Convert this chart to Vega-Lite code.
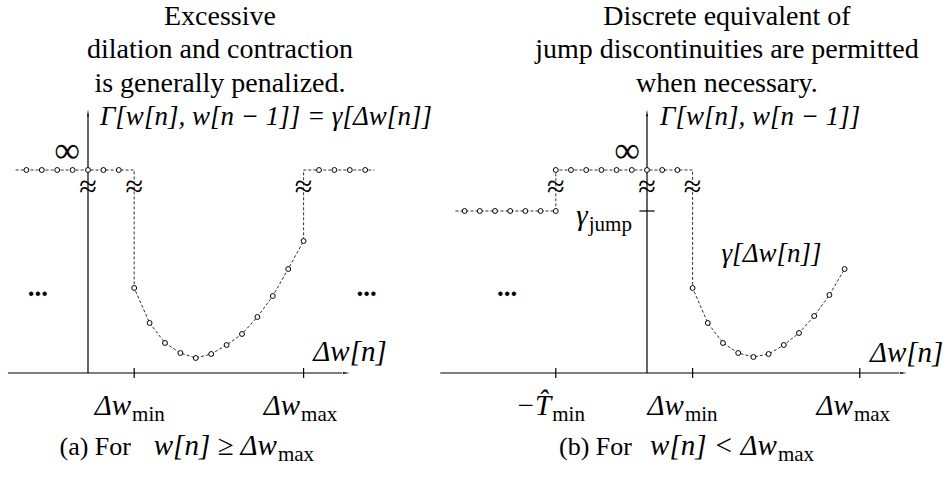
{
  "$schema": "https://vega.github.io/schema/vega-lite/v6.json",
  "width": 951,
  "height": 487,
  "padding": 0,
  "autosize": {"type": "none"},
  "background": "white",
  "config": {"view": {"stroke": null}},
  "datasets": {
    "a_axes": [
      {"x": -5.2, "x2": 16.5, "y": 0, "y2": 0},
      {"x": 0, "x2": 0, "y": 0, "y2": 25.8},
      {"x": 3, "x2": 3, "y": -0.5, "y2": 0.5},
      {"x": 14, "x2": 14, "y": -0.5, "y2": 0.5}
    ],
    "a_arrows": [
      {"x": 16.7, "y": 0, "dir": "right"},
      {"x": 0, "y": 25.9, "dir": "up"}
    ],
    "a_path": [
      {"x": -4.7, "y": 20.3, "dot": false},
      {"x": -4, "y": 20.3, "dot": true},
      {"x": -3, "y": 20.3, "dot": true},
      {"x": -2, "y": 20.3, "dot": true},
      {"x": -1, "y": 20.3, "dot": true},
      {"x": 0, "y": 20.3, "dot": true},
      {"x": 1, "y": 20.3, "dot": true},
      {"x": 2, "y": 20.3, "dot": true},
      {"x": 3, "y": 20.3, "dot": false},
      {"x": 3, "y": 8.5, "dot": true},
      {"x": 4, "y": 5.0, "dot": true},
      {"x": 5, "y": 3.0, "dot": true},
      {"x": 6, "y": 2.0, "dot": true},
      {"x": 7, "y": 1.5, "dot": true},
      {"x": 8, "y": 1.9, "dot": true},
      {"x": 9, "y": 2.8, "dot": true},
      {"x": 10, "y": 3.9, "dot": true},
      {"x": 11, "y": 5.6, "dot": true},
      {"x": 12, "y": 7.7, "dot": true},
      {"x": 13, "y": 10.4, "dot": true},
      {"x": 14, "y": 13.2, "dot": true},
      {"x": 14, "y": 20.3, "dot": false},
      {"x": 15, "y": 20.3, "dot": true},
      {"x": 16, "y": 20.3, "dot": true},
      {"x": 17, "y": 20.3, "dot": true},
      {"x": 18, "y": 20.3, "dot": true},
      {"x": 18.6, "y": 20.3, "dot": false}
    ],
    "a_text": [
      {"role": "title", "text": ["Excessive", "dilation and contraction", "is generally penalized."], "x": 8.57, "y": 34.8},
      {"role": "mathL", "text": "Γ[w[n], w[n − 1]] = γ[Δw[n]]", "x": 0.78, "y": 24.8},
      {"role": "inf", "text": "∞", "x": -0.52, "y": 21.1},
      {"role": "approx", "text": "≈", "x": 0, "y": 18.6},
      {"role": "approx", "text": "≈", "x": 3, "y": 18.6},
      {"role": "approx", "text": "≈", "x": 14, "y": 18.6},
      {"role": "ellipsis", "text": "...", "x": -3.25, "y": 7.7},
      {"role": "ellipsis", "text": "...", "x": 18.1, "y": 7.7},
      {"role": "mathR", "text": "Δw[n]", "x": 19.4, "y": 1.2},
      {"role": "mathR", "text": "Δw", "x": 2.8, "y": -4.2},
      {"role": "sub", "text": "min", "x": 2.8, "y": -4.2},
      {"role": "mathR", "text": "Δw", "x": 13.77, "y": -4.2},
      {"role": "sub", "text": "max", "x": 13.77, "y": -4.2},
      {"role": "roman", "text": "(a) For", "x": 2.79, "y": -8.2},
      {"role": "mathR", "text": "w[n] ≥ Δw", "x": 12.27, "y": -8.2},
      {"role": "sub", "text": "max", "x": 12.27, "y": -8.2}
    ],
    "b_axes": [
      {"x": -13.6, "x2": 16.6, "y": 0, "y2": 0},
      {"x": 0, "x2": 0, "y": 0, "y2": 25.8},
      {"x": -6, "x2": -6, "y": -0.5, "y2": 0.5},
      {"x": 3, "x2": 3, "y": -0.5, "y2": 0.5},
      {"x": 14, "x2": 14, "y": -0.5, "y2": 0.5},
      {"x": -0.5, "x2": 0.5, "y": 16.2, "y2": 16.2}
    ],
    "b_arrows": [
      {"x": 16.8, "y": 0, "dir": "right"},
      {"x": 0, "y": 25.9, "dir": "up"}
    ],
    "b_path": [
      {"x": -12.6, "y": 16.2, "dot": false},
      {"x": -12, "y": 16.2, "dot": true},
      {"x": -11, "y": 16.2, "dot": true},
      {"x": -10, "y": 16.2, "dot": true},
      {"x": -9, "y": 16.2, "dot": true},
      {"x": -8, "y": 16.2, "dot": true},
      {"x": -7, "y": 16.2, "dot": true},
      {"x": -6, "y": 16.2, "dot": true},
      {"x": -6, "y": 20.3, "dot": true},
      {"x": -5, "y": 20.3, "dot": true},
      {"x": -4, "y": 20.3, "dot": true},
      {"x": -3, "y": 20.3, "dot": true},
      {"x": -2, "y": 20.3, "dot": true},
      {"x": -1, "y": 20.3, "dot": true},
      {"x": 0, "y": 20.3, "dot": true},
      {"x": 1, "y": 20.3, "dot": true},
      {"x": 2, "y": 20.3, "dot": true},
      {"x": 3, "y": 20.3, "dot": false},
      {"x": 3, "y": 8.5, "dot": true},
      {"x": 4, "y": 5.0, "dot": true},
      {"x": 5, "y": 3.0, "dot": true},
      {"x": 6, "y": 2.0, "dot": true},
      {"x": 7, "y": 1.6, "dot": true},
      {"x": 8, "y": 1.9, "dot": true},
      {"x": 9, "y": 2.8, "dot": true},
      {"x": 10, "y": 4.0, "dot": true},
      {"x": 11, "y": 5.7, "dot": true},
      {"x": 12, "y": 7.8, "dot": true},
      {"x": 13, "y": 10.4, "dot": true}
    ],
    "b_text": [
      {"role": "title", "text": ["Discrete equivalent of", "jump discontinuities are permitted", "when necessary."], "x": 5.26, "y": 34.8},
      {"role": "mathL", "text": "Γ[w[n], w[n − 1]]", "x": 0.86, "y": 24.8},
      {"role": "mathL", "text": "γ[Δw[n]]", "x": 4.9, "y": 11.1},
      {"role": "inf", "text": "∞", "x": -0.46, "y": 21.1},
      {"role": "approx", "text": "≈", "x": -6, "y": 18.6},
      {"role": "approx", "text": "≈", "x": 0, "y": 18.6},
      {"role": "approx", "text": "≈", "x": 3, "y": 18.6},
      {"role": "ellipsis", "text": "...", "x": -9.2, "y": 7.7},
      {"role": "mathR", "text": "Δw[n]", "x": 19.5, "y": 1.1},
      {"role": "mathR", "text": "γ", "x": -3.9, "y": 14.8},
      {"role": "sub", "text": "jump", "x": -3.9, "y": 14.8},
      {"role": "mathR", "text": "−T̂", "x": -6.3, "y": -4.2},
      {"role": "sub", "text": "min", "x": -6.3, "y": -4.2},
      {"role": "mathR", "text": "Δw", "x": 2.43, "y": -4.2},
      {"role": "sub", "text": "min", "x": 2.43, "y": -4.2},
      {"role": "mathR", "text": "Δw", "x": 13.55, "y": -4.2},
      {"role": "sub", "text": "max", "x": 13.55, "y": -4.2},
      {"role": "roman", "text": "(b) For", "x": -0.99, "y": -8.2},
      {"role": "mathR", "text": "w[n] < Δw", "x": 8.55, "y": -8.2},
      {"role": "sub", "text": "max", "x": 8.55, "y": -8.2}
    ]
  },
  "resolve": {"scale": {"x": "independent"}},
  "layer": [
    {
      "encoding": {
        "x": {"field": "x", "type": "quantitative", "scale": {"domain": [-5.714, 56.039], "nice": false, "zero": false}, "axis": null},
        "y": {"field": "y", "type": "quantitative", "scale": {"domain": [-11.4, 37.3], "nice": false, "zero": false}, "axis": null}
      },
      "layer": [
        {"data": {"name": "a_axes"}, "mark": {"type": "rule", "color": "black", "strokeWidth": 1.2}, "encoding": {"x2": {"field": "x2"}, "y2": {"field": "y2"}}},
        {"data": {"name": "a_arrows"}, "mark": {"type": "point", "shape": "wedge", "filled": true, "color": "black", "size": 60, "opacity": 1}, "encoding": {"angle": {"field": "dir", "type": "nominal", "scale": {"domain": ["up", "right"], "range": [0, 90]}, "legend": null}}},
        {"data": {"name": "a_path"}, "mark": {"type": "line", "color": "#333", "strokeWidth": 1, "strokeDash": [3, 2]}, "encoding": {"order": {"value": null}}},
        {"data": {"name": "a_path"}, "transform": [{"filter": "datum.dot"}], "mark": {"type": "point", "shape": "circle", "filled": true, "fill": "white", "stroke": "black", "strokeWidth": 1, "size": 24, "opacity": 1}},
        {"data": {"name": "a_text"}, "transform": [{"filter": "datum.role === 'title'"}], "mark": {"type": "text", "font": "Liberation Serif, Times New Roman, serif", "fontSize": 28, "align": "center", "baseline": "alphabetic", "lineHeight": 33.3, "color": "black"}, "encoding": {"text": {"field": "text"}}},
        {"data": {"name": "a_text"}, "transform": [{"filter": "datum.role === 'mathL'"}], "mark": {"type": "text", "font": "Liberation Serif, Times New Roman, serif", "fontStyle": "italic", "fontSize": 27, "align": "left", "baseline": "alphabetic", "color": "black"}, "encoding": {"text": {"field": "text"}}},
        {"data": {"name": "a_text"}, "transform": [{"filter": "datum.role === 'mathR'"}], "mark": {"type": "text", "font": "Liberation Serif, Times New Roman, serif", "fontStyle": "italic", "fontSize": 29, "align": "right", "baseline": "alphabetic", "color": "black"}, "encoding": {"text": {"field": "text"}}},
        {"data": {"name": "a_text"}, "transform": [{"filter": "datum.role === 'sub'"}], "mark": {"type": "text", "font": "Liberation Serif, Times New Roman, serif", "fontSize": 21, "align": "left", "baseline": "alphabetic", "dx": 1, "dy": 6, "color": "black"}, "encoding": {"text": {"field": "text"}}},
        {"data": {"name": "a_text"}, "transform": [{"filter": "datum.role === 'roman'"}], "mark": {"type": "text", "font": "Liberation Serif, Times New Roman, serif", "fontSize": 26, "align": "right", "baseline": "alphabetic", "color": "black"}, "encoding": {"text": {"field": "text"}}},
        {"data": {"name": "a_text"}, "transform": [{"filter": "datum.role === 'inf'"}], "mark": {"type": "text", "font": "Liberation Serif, Times New Roman, serif", "fontSize": 36, "align": "right", "baseline": "alphabetic", "color": "black"}, "encoding": {"text": {"field": "text"}}},
        {"data": {"name": "a_text"}, "transform": [{"filter": "datum.role === 'approx'"}], "mark": {"type": "text", "font": "Liberation Serif, Times New Roman, serif", "fontSize": 32, "align": "center", "baseline": "middle", "color": "black"}, "encoding": {"text": {"field": "text"}}},
        {"data": {"name": "a_text"}, "transform": [{"filter": "datum.role === 'ellipsis'"}], "mark": {"type": "text", "font": "Liberation Serif, Times New Roman, serif", "fontSize": 27, "fontWeight": "bold", "align": "center", "baseline": "alphabetic", "color": "black"}, "encoding": {"text": {"field": "text"}}}
      ]
    },
    {
      "encoding": {
        "x": {"field": "x", "type": "quantitative", "scale": {"domain": [-42.566, 20.0], "nice": false, "zero": false}, "axis": null},
        "y": {"field": "y", "type": "quantitative", "scale": {"domain": [-11.4, 37.3], "nice": false, "zero": false}, "axis": null}
      },
      "layer": [
        {"data": {"name": "b_axes"}, "mark": {"type": "rule", "color": "black", "strokeWidth": 1.2}, "encoding": {"x2": {"field": "x2"}, "y2": {"field": "y2"}}},
        {"data": {"name": "b_arrows"}, "mark": {"type": "point", "shape": "wedge", "filled": true, "color": "black", "size": 60, "opacity": 1}, "encoding": {"angle": {"field": "dir", "type": "nominal", "scale": {"domain": ["up", "right"], "range": [0, 90]}, "legend": null}}},
        {"data": {"name": "b_path"}, "mark": {"type": "line", "color": "#333", "strokeWidth": 1, "strokeDash": [3, 2]}, "encoding": {"order": {"value": null}}},
        {"data": {"name": "b_path"}, "transform": [{"filter": "datum.dot"}], "mark": {"type": "point", "shape": "circle", "filled": true, "fill": "white", "stroke": "black", "strokeWidth": 1, "size": 24, "opacity": 1}},
        {"data": {"name": "b_text"}, "transform": [{"filter": "datum.role === 'title'"}], "mark": {"type": "text", "font": "Liberation Serif, Times New Roman, serif", "fontSize": 28, "align": "center", "baseline": "alphabetic", "lineHeight": 33.3, "color": "black"}, "encoding": {"text": {"field": "text"}}},
        {"data": {"name": "b_text"}, "transform": [{"filter": "datum.role === 'mathL'"}], "mark": {"type": "text", "font": "Liberation Serif, Times New Roman, serif", "fontStyle": "italic", "fontSize": 27, "align": "left", "baseline": "alphabetic", "color": "black"}, "encoding": {"text": {"field": "text"}}},
        {"data": {"name": "b_text"}, "transform": [{"filter": "datum.role === 'mathR'"}], "mark": {"type": "text", "font": "Liberation Serif, Times New Roman, serif", "fontStyle": "italic", "fontSize": 29, "align": "right", "baseline": "alphabetic", "color": "black"}, "encoding": {"text": {"field": "text"}}},
        {"data": {"name": "b_text"}, "transform": [{"filter": "datum.role === 'sub'"}], "mark": {"type": "text", "font": "Liberation Serif, Times New Roman, serif", "fontSize": 21, "align": "left", "baseline": "alphabetic", "dx": 1, "dy": 6, "color": "black"}, "encoding": {"text": {"field": "text"}}},
        {"data": {"name": "b_text"}, "transform": [{"filter": "datum.role === 'roman'"}], "mark": {"type": "text", "font": "Liberation Serif, Times New Roman, serif", "fontSize": 26, "align": "right", "baseline": "alphabetic", "color": "black"}, "encoding": {"text": {"field": "text"}}},
        {"data": {"name": "b_text"}, "transform": [{"filter": "datum.role === 'inf'"}], "mark": {"type": "text", "font": "Liberation Serif, Times New Roman, serif", "fontSize": 36, "align": "right", "baseline": "alphabetic", "color": "black"}, "encoding": {"text": {"field": "text"}}},
        {"data": {"name": "b_text"}, "transform": [{"filter": "datum.role === 'approx'"}], "mark": {"type": "text", "font": "Liberation Serif, Times New Roman, serif", "fontSize": 32, "align": "center", "baseline": "middle", "color": "black"}, "encoding": {"text": {"field": "text"}}},
        {"data": {"name": "b_text"}, "transform": [{"filter": "datum.role === 'ellipsis'"}], "mark": {"type": "text", "font": "Liberation Serif, Times New Roman, serif", "fontSize": 27, "fontWeight": "bold", "align": "center", "baseline": "alphabetic", "color": "black"}, "encoding": {"text": {"field": "text"}}}
      ]
    }
  ]
}
